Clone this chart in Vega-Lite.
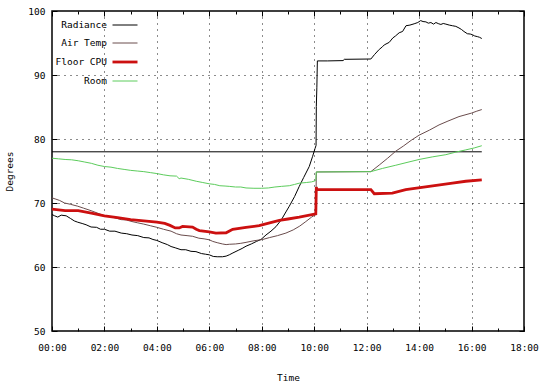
{
  "$schema": "https://vega.github.io/schema/vega-lite/v6.json",
  "width": 472,
  "height": 320,
  "autosize": {"type": "none"},
  "padding": {"left": 52, "top": 11, "right": 16, "bottom": 54},
  "background": "white",
  "config": {
    "view": {"stroke": "black", "strokeWidth": 1.5},
    "font": "DejaVu Sans Mono",
    "axis": {
      "labelFont": "DejaVu Sans Mono",
      "titleFont": "DejaVu Sans Mono",
      "labelFontSize": 9.5,
      "titleFontSize": 9.5,
      "titleFontWeight": "normal",
      "labelColor": "black",
      "titleColor": "black",
      "domain": false,
      "tickColor": "black",
      "tickWidth": 1,
      "gridColor": "black",
      "gridDash": [1, 5],
      "gridWidth": 1,
      "labelFlush": false,
      "labelOverlap": false
    }
  },
  "layer": [
    {
      "data": {"values": [{"h": 0, "v": 78}, {"h": 16.39, "v": 78}]},
      "mark": {"type": "line", "color": "black", "strokeWidth": 1},
      "encoding": {
        "x": {
          "field": "h", "type": "quantitative",
          "scale": {"domain": [0, 18], "nice": false, "zero": false},
          "axis": {
            "orient": "bottom", "title": "Time",
            "values": [0,1,2,3,4,5,6,7,8,9,10,11,12,13,14,15,16,17,18],
            "labelExpr": "datum.value % 2 == 0 ? (datum.value < 10 ? '0' : '') + datum.value + ':00' : ''",
            "grid": true,
            "gridOpacity": {"condition": {"test": "datum.value % 2 == 0 && datum.value > 0 && datum.value < 18", "value": 0.9}, "value": 0},
            "tickSize": {"condition": {"test": "datum.value % 2 == 0", "value": -5}, "value": -3},
            "labelPadding": 16,
            "titlePadding": 19
          }
        },
        "y": {
          "field": "v", "type": "quantitative",
          "scale": {"domain": [50, 100], "nice": false, "zero": false},
          "axis": {
            "orient": "left", "title": "Degrees",
            "values": [50, 60, 70, 80, 90, 100],
            "grid": true,
            "gridOpacity": {"condition": {"test": "datum.value > 50 && datum.value < 100", "value": 0.9}, "value": 0},
            "tickSize": -5,
            "labelPadding": 12,
            "titlePadding": 13
          }
        }
      }
    },
    {
      "data": {"values": [
        {"series": "Radiance", "h": 0, "v": 68.2}, {"series": "Radiance", "h": 0.1, "v": 68.0}, {"series": "Radiance", "h": 0.22, "v": 67.8}, {"series": "Radiance", "h": 0.35, "v": 68.1}, {"series": "Radiance", "h": 0.54, "v": 68.0}, {"series": "Radiance", "h": 0.7, "v": 67.6}, {"series": "Radiance", "h": 0.85, "v": 67.2}, {"series": "Radiance", "h": 0.98, "v": 67.0}, {"series": "Radiance", "h": 1.15, "v": 66.8}, {"series": "Radiance", "h": 1.3, "v": 66.6}, {"series": "Radiance", "h": 1.49, "v": 66.25}, {"series": "Radiance", "h": 1.7, "v": 66.2}, {"series": "Radiance", "h": 1.85, "v": 65.9}, {"series": "Radiance", "h": 2.0, "v": 65.9}, {"series": "Radiance", "h": 2.2, "v": 65.6}, {"series": "Radiance", "h": 2.4, "v": 65.6}, {"series": "Radiance", "h": 2.64, "v": 65.3}, {"series": "Radiance", "h": 2.85, "v": 65.2}, {"series": "Radiance", "h": 3.05, "v": 65.0}, {"series": "Radiance", "h": 3.27, "v": 64.9}, {"series": "Radiance", "h": 3.5, "v": 64.6}, {"series": "Radiance", "h": 3.7, "v": 64.55}, {"series": "Radiance", "h": 3.85, "v": 64.3}, {"series": "Radiance", "h": 4.0, "v": 64.15}, {"series": "Radiance", "h": 4.2, "v": 63.8}, {"series": "Radiance", "h": 4.4, "v": 63.5}, {"series": "Radiance", "h": 4.54, "v": 63.2}, {"series": "Radiance", "h": 4.7, "v": 63.0}, {"series": "Radiance", "h": 4.92, "v": 62.7}, {"series": "Radiance", "h": 5.1, "v": 62.7}, {"series": "Radiance", "h": 5.3, "v": 62.45}, {"series": "Radiance", "h": 5.49, "v": 62.4}, {"series": "Radiance", "h": 5.7, "v": 62.1}, {"series": "Radiance", "h": 5.85, "v": 62.0}, {"series": "Radiance", "h": 6.0, "v": 61.9}, {"series": "Radiance", "h": 6.15, "v": 61.65}, {"series": "Radiance", "h": 6.3, "v": 61.6}, {"series": "Radiance", "h": 6.5, "v": 61.6}, {"series": "Radiance", "h": 6.64, "v": 61.7}, {"series": "Radiance", "h": 6.76, "v": 61.9}, {"series": "Radiance", "h": 6.9, "v": 62.2}, {"series": "Radiance", "h": 7.1, "v": 62.6}, {"series": "Radiance", "h": 7.25, "v": 62.9}, {"series": "Radiance", "h": 7.4, "v": 63.25}, {"series": "Radiance", "h": 7.6, "v": 63.6}, {"series": "Radiance", "h": 7.8, "v": 64.0}, {"series": "Radiance", "h": 7.97, "v": 64.3}, {"series": "Radiance", "h": 8.16, "v": 65.0}, {"series": "Radiance", "h": 8.35, "v": 65.6}, {"series": "Radiance", "h": 8.54, "v": 66.3}, {"series": "Radiance", "h": 8.75, "v": 67.4}, {"series": "Radiance", "h": 8.92, "v": 68.6}, {"series": "Radiance", "h": 9.05, "v": 69.5}, {"series": "Radiance", "h": 9.25, "v": 71.0}, {"series": "Radiance", "h": 9.43, "v": 72.6}, {"series": "Radiance", "h": 9.6, "v": 74.0}, {"series": "Radiance", "h": 9.81, "v": 75.7}, {"series": "Radiance", "h": 9.94, "v": 77.3}, {"series": "Radiance", "h": 10.03, "v": 78.5}, {"series": "Radiance", "h": 10.07, "v": 79.0}, {"series": "Radiance", "h": 10.08, "v": 85.1}, {"series": "Radiance", "h": 10.1, "v": 88.0}, {"series": "Radiance", "h": 10.12, "v": 92.2}, {"series": "Radiance", "h": 10.5, "v": 92.2}, {"series": "Radiance", "h": 11.1, "v": 92.25}, {"series": "Radiance", "h": 11.15, "v": 92.45}, {"series": "Radiance", "h": 12.16, "v": 92.5}, {"series": "Radiance", "h": 12.3, "v": 93.2}, {"series": "Radiance", "h": 12.48, "v": 94.0}, {"series": "Radiance", "h": 12.6, "v": 94.4}, {"series": "Radiance", "h": 12.67, "v": 94.7}, {"series": "Radiance", "h": 12.86, "v": 95.1}, {"series": "Radiance", "h": 13.0, "v": 95.8}, {"series": "Radiance", "h": 13.1, "v": 96.1}, {"series": "Radiance", "h": 13.24, "v": 96.6}, {"series": "Radiance", "h": 13.37, "v": 96.8}, {"series": "Radiance", "h": 13.5, "v": 97.7}, {"series": "Radiance", "h": 13.65, "v": 97.8}, {"series": "Radiance", "h": 13.81, "v": 98.0}, {"series": "Radiance", "h": 13.95, "v": 98.2}, {"series": "Radiance", "h": 14.06, "v": 98.5}, {"series": "Radiance", "h": 14.15, "v": 98.35}, {"series": "Radiance", "h": 14.26, "v": 98.3}, {"series": "Radiance", "h": 14.35, "v": 98.1}, {"series": "Radiance", "h": 14.45, "v": 98.2}, {"series": "Radiance", "h": 14.55, "v": 97.95}, {"series": "Radiance", "h": 14.64, "v": 98.2}, {"series": "Radiance", "h": 14.75, "v": 98.0}, {"series": "Radiance", "h": 14.83, "v": 97.9}, {"series": "Radiance", "h": 14.92, "v": 98.05}, {"series": "Radiance", "h": 15.02, "v": 97.95}, {"series": "Radiance", "h": 15.15, "v": 97.8}, {"series": "Radiance", "h": 15.27, "v": 97.7}, {"series": "Radiance", "h": 15.4, "v": 97.6}, {"series": "Radiance", "h": 15.52, "v": 97.35}, {"series": "Radiance", "h": 15.62, "v": 97.1}, {"series": "Radiance", "h": 15.71, "v": 96.8}, {"series": "Radiance", "h": 15.84, "v": 96.45}, {"series": "Radiance", "h": 15.95, "v": 96.4}, {"series": "Radiance", "h": 16.03, "v": 96.3}, {"series": "Radiance", "h": 16.12, "v": 96.1}, {"series": "Radiance", "h": 16.22, "v": 96.0}, {"series": "Radiance", "h": 16.3, "v": 95.9}, {"series": "Radiance", "h": 16.39, "v": 95.7},
        {"series": "Air Temp", "h": 0, "v": 70.8}, {"series": "Air Temp", "h": 0.15, "v": 70.6}, {"series": "Air Temp", "h": 0.29, "v": 70.4}, {"series": "Air Temp", "h": 0.48, "v": 70.0}, {"series": "Air Temp", "h": 0.7, "v": 69.8}, {"series": "Air Temp", "h": 0.98, "v": 69.5}, {"series": "Air Temp", "h": 1.2, "v": 69.2}, {"series": "Air Temp", "h": 1.49, "v": 68.8}, {"series": "Air Temp", "h": 1.75, "v": 68.4}, {"series": "Air Temp", "h": 2.0, "v": 68.0}, {"series": "Air Temp", "h": 2.3, "v": 67.8}, {"series": "Air Temp", "h": 2.64, "v": 67.4}, {"series": "Air Temp", "h": 2.83, "v": 67.35}, {"series": "Air Temp", "h": 3.05, "v": 67.1}, {"series": "Air Temp", "h": 3.27, "v": 66.9}, {"series": "Air Temp", "h": 3.5, "v": 66.7}, {"series": "Air Temp", "h": 3.75, "v": 66.45}, {"series": "Air Temp", "h": 4.0, "v": 66.2}, {"series": "Air Temp", "h": 4.25, "v": 65.9}, {"series": "Air Temp", "h": 4.54, "v": 65.6}, {"series": "Air Temp", "h": 4.75, "v": 65.2}, {"series": "Air Temp", "h": 4.92, "v": 65.0}, {"series": "Air Temp", "h": 5.15, "v": 64.9}, {"series": "Air Temp", "h": 5.36, "v": 64.8}, {"series": "Air Temp", "h": 5.6, "v": 64.5}, {"series": "Air Temp", "h": 5.8, "v": 64.4}, {"series": "Air Temp", "h": 6.0, "v": 64.25}, {"series": "Air Temp", "h": 6.13, "v": 64.0}, {"series": "Air Temp", "h": 6.3, "v": 63.8}, {"series": "Air Temp", "h": 6.5, "v": 63.6}, {"series": "Air Temp", "h": 6.64, "v": 63.5}, {"series": "Air Temp", "h": 6.76, "v": 63.55}, {"series": "Air Temp", "h": 7.0, "v": 63.6}, {"series": "Air Temp", "h": 7.2, "v": 63.7}, {"series": "Air Temp", "h": 7.4, "v": 63.85}, {"series": "Air Temp", "h": 7.7, "v": 64.1}, {"series": "Air Temp", "h": 8.03, "v": 64.3}, {"series": "Air Temp", "h": 8.3, "v": 64.6}, {"series": "Air Temp", "h": 8.6, "v": 64.9}, {"series": "Air Temp", "h": 8.92, "v": 65.3}, {"series": "Air Temp", "h": 9.2, "v": 65.8}, {"series": "Air Temp", "h": 9.45, "v": 66.4}, {"series": "Air Temp", "h": 9.68, "v": 67.1}, {"series": "Air Temp", "h": 9.9, "v": 67.8}, {"series": "Air Temp", "h": 10.06, "v": 68.2}, {"series": "Air Temp", "h": 10.08, "v": 74.85}, {"series": "Air Temp", "h": 12.16, "v": 74.9}, {"series": "Air Temp", "h": 12.5, "v": 76.0}, {"series": "Air Temp", "h": 12.8, "v": 77.0}, {"series": "Air Temp", "h": 13.11, "v": 78.1}, {"series": "Air Temp", "h": 13.4, "v": 78.9}, {"series": "Air Temp", "h": 13.7, "v": 79.8}, {"series": "Air Temp", "h": 14.0, "v": 80.6}, {"series": "Air Temp", "h": 14.4, "v": 81.4}, {"series": "Air Temp", "h": 14.76, "v": 82.2}, {"series": "Air Temp", "h": 15.1, "v": 82.8}, {"series": "Air Temp", "h": 15.52, "v": 83.5}, {"series": "Air Temp", "h": 16.0, "v": 84.05}, {"series": "Air Temp", "h": 16.2, "v": 84.35}, {"series": "Air Temp", "h": 16.39, "v": 84.6},
        {"series": "Floor CPU", "h": 0, "v": 69.05}, {"series": "Floor CPU", "h": 0.5, "v": 68.8}, {"series": "Floor CPU", "h": 1.0, "v": 68.8}, {"series": "Floor CPU", "h": 1.5, "v": 68.4}, {"series": "Floor CPU", "h": 2.0, "v": 68.0}, {"series": "Floor CPU", "h": 2.5, "v": 67.7}, {"series": "Floor CPU", "h": 3.0, "v": 67.4}, {"series": "Floor CPU", "h": 3.5, "v": 67.2}, {"series": "Floor CPU", "h": 4.0, "v": 67.0}, {"series": "Floor CPU", "h": 4.3, "v": 66.8}, {"series": "Floor CPU", "h": 4.5, "v": 66.5}, {"series": "Floor CPU", "h": 4.7, "v": 66.1}, {"series": "Floor CPU", "h": 4.85, "v": 66.1}, {"series": "Floor CPU", "h": 4.98, "v": 66.35}, {"series": "Floor CPU", "h": 5.36, "v": 66.25}, {"series": "Floor CPU", "h": 5.5, "v": 65.9}, {"series": "Floor CPU", "h": 5.62, "v": 65.7}, {"series": "Floor CPU", "h": 6.0, "v": 65.5}, {"series": "Floor CPU", "h": 6.25, "v": 65.3}, {"series": "Floor CPU", "h": 6.64, "v": 65.35}, {"series": "Floor CPU", "h": 6.89, "v": 65.9}, {"series": "Floor CPU", "h": 7.4, "v": 66.2}, {"series": "Floor CPU", "h": 7.9, "v": 66.45}, {"series": "Floor CPU", "h": 8.3, "v": 66.9}, {"series": "Floor CPU", "h": 8.67, "v": 67.3}, {"series": "Floor CPU", "h": 9.0, "v": 67.5}, {"series": "Floor CPU", "h": 9.43, "v": 67.8}, {"series": "Floor CPU", "h": 10.06, "v": 68.3}, {"series": "Floor CPU", "h": 10.08, "v": 72.5}, {"series": "Floor CPU", "h": 10.1, "v": 72.1}, {"series": "Floor CPU", "h": 12.16, "v": 72.1}, {"series": "Floor CPU", "h": 12.29, "v": 71.45}, {"series": "Floor CPU", "h": 12.98, "v": 71.55}, {"series": "Floor CPU", "h": 13.49, "v": 72.1}, {"series": "Floor CPU", "h": 14.38, "v": 72.6}, {"series": "Floor CPU", "h": 15.27, "v": 73.1}, {"series": "Floor CPU", "h": 15.78, "v": 73.4}, {"series": "Floor CPU", "h": 16.39, "v": 73.6},
        {"series": "Room", "h": 0, "v": 77.0}, {"series": "Room", "h": 0.25, "v": 76.9}, {"series": "Room", "h": 0.5, "v": 76.8}, {"series": "Room", "h": 0.75, "v": 76.75}, {"series": "Room", "h": 1.0, "v": 76.6}, {"series": "Room", "h": 1.25, "v": 76.4}, {"series": "Room", "h": 1.5, "v": 76.2}, {"series": "Room", "h": 1.75, "v": 75.9}, {"series": "Room", "h": 2.0, "v": 75.7}, {"series": "Room", "h": 2.25, "v": 75.6}, {"series": "Room", "h": 2.5, "v": 75.4}, {"series": "Room", "h": 2.75, "v": 75.25}, {"series": "Room", "h": 3.0, "v": 75.1}, {"series": "Room", "h": 3.25, "v": 75.0}, {"series": "Room", "h": 3.5, "v": 74.9}, {"series": "Room", "h": 3.75, "v": 74.75}, {"series": "Room", "h": 4.0, "v": 74.6}, {"series": "Room", "h": 4.25, "v": 74.4}, {"series": "Room", "h": 4.5, "v": 74.25}, {"series": "Room", "h": 4.75, "v": 74.2}, {"series": "Room", "h": 4.85, "v": 73.8}, {"series": "Room", "h": 4.92, "v": 73.9}, {"series": "Room", "h": 5.2, "v": 73.7}, {"series": "Room", "h": 5.5, "v": 73.4}, {"series": "Room", "h": 5.75, "v": 73.2}, {"series": "Room", "h": 6.0, "v": 73.0}, {"series": "Room", "h": 6.2, "v": 72.9}, {"series": "Room", "h": 6.4, "v": 72.7}, {"series": "Room", "h": 6.6, "v": 72.65}, {"series": "Room", "h": 6.76, "v": 72.6}, {"series": "Room", "h": 7.0, "v": 72.5}, {"series": "Room", "h": 7.2, "v": 72.5}, {"series": "Room", "h": 7.4, "v": 72.35}, {"series": "Room", "h": 7.7, "v": 72.3}, {"series": "Room", "h": 8.0, "v": 72.3}, {"series": "Room", "h": 8.25, "v": 72.35}, {"series": "Room", "h": 8.5, "v": 72.5}, {"series": "Room", "h": 8.75, "v": 72.6}, {"series": "Room", "h": 9.05, "v": 72.7}, {"series": "Room", "h": 9.25, "v": 72.9}, {"series": "Room", "h": 9.43, "v": 73.1}, {"series": "Room", "h": 9.7, "v": 73.2}, {"series": "Room", "h": 9.9, "v": 73.3}, {"series": "Room", "h": 10.06, "v": 73.5}, {"series": "Room", "h": 10.08, "v": 74.85}, {"series": "Room", "h": 12.16, "v": 74.9}, {"series": "Room", "h": 12.6, "v": 75.4}, {"series": "Room", "h": 13.11, "v": 75.9}, {"series": "Room", "h": 13.5, "v": 76.3}, {"series": "Room", "h": 14.0, "v": 76.8}, {"series": "Room", "h": 14.5, "v": 77.2}, {"series": "Room", "h": 15.02, "v": 77.55}, {"series": "Room", "h": 15.4, "v": 77.95}, {"series": "Room", "h": 15.78, "v": 78.3}, {"series": "Room", "h": 16.1, "v": 78.6}, {"series": "Room", "h": 16.39, "v": 78.95}
      ]},
      "mark": {"type": "line"},
      "encoding": {
        "x": {
          "field": "h", "type": "quantitative",
          "scale": {"domain": [0, 18], "nice": false, "zero": false},
          "axis": {
            "orient": "top", "title": null, "labels": false, "grid": false,
            "values": [0,1,2,3,4,5,6,7,8,9,10,11,12,13,14,15,16,17,18],
            "tickSize": {"condition": {"test": "datum.value % 2 == 0", "value": -5}, "value": -3}
          }
        },
        "y": {
          "field": "v", "type": "quantitative",
          "scale": {"domain": [50, 100], "nice": false, "zero": false},
          "axis": {
            "orient": "right", "title": null, "labels": false, "grid": false,
            "values": [50, 60, 70, 80, 90, 100],
            "tickSize": -5
          }
        },
        "color": {
          "field": "series", "type": "nominal",
          "scale": {"domain": ["Radiance", "Air Temp", "Floor CPU", "Room"], "range": ["#000000", "#6a4c4c", "#cc1010", "#5ccc5c"]},
          "legend": {
            "orient": "none", "legendX": 59, "legendY": 1,
            "title": null, "padding": 0,
            "symbolType": "stroke", "symbolSize": 625,
            "labelAlign": "right", "labelOffset": -32,
            "labelFont": "DejaVu Sans Mono", "labelFontSize": 9.5, "labelColor": "black",
            "rowPadding": 0
          }
        },
        "strokeWidth": {
          "field": "series", "type": "nominal",
          "scale": {"type": "ordinal", "domain": ["Radiance", "Air Temp", "Floor CPU", "Room"], "range": [1, 1, 2.8, 1]},
          "legend": {
            "orient": "none", "legendX": 59, "legendY": 1,
            "title": null, "padding": 0,
            "symbolType": "stroke", "symbolSize": 625,
            "labelAlign": "right", "labelOffset": -32,
            "labelFont": "DejaVu Sans Mono", "labelFontSize": 9.5, "labelColor": "black",
            "rowPadding": 0
          }
        }
      }
    }
  ],
  "resolve": {"axis": {"x": "independent", "y": "independent"}}
}
